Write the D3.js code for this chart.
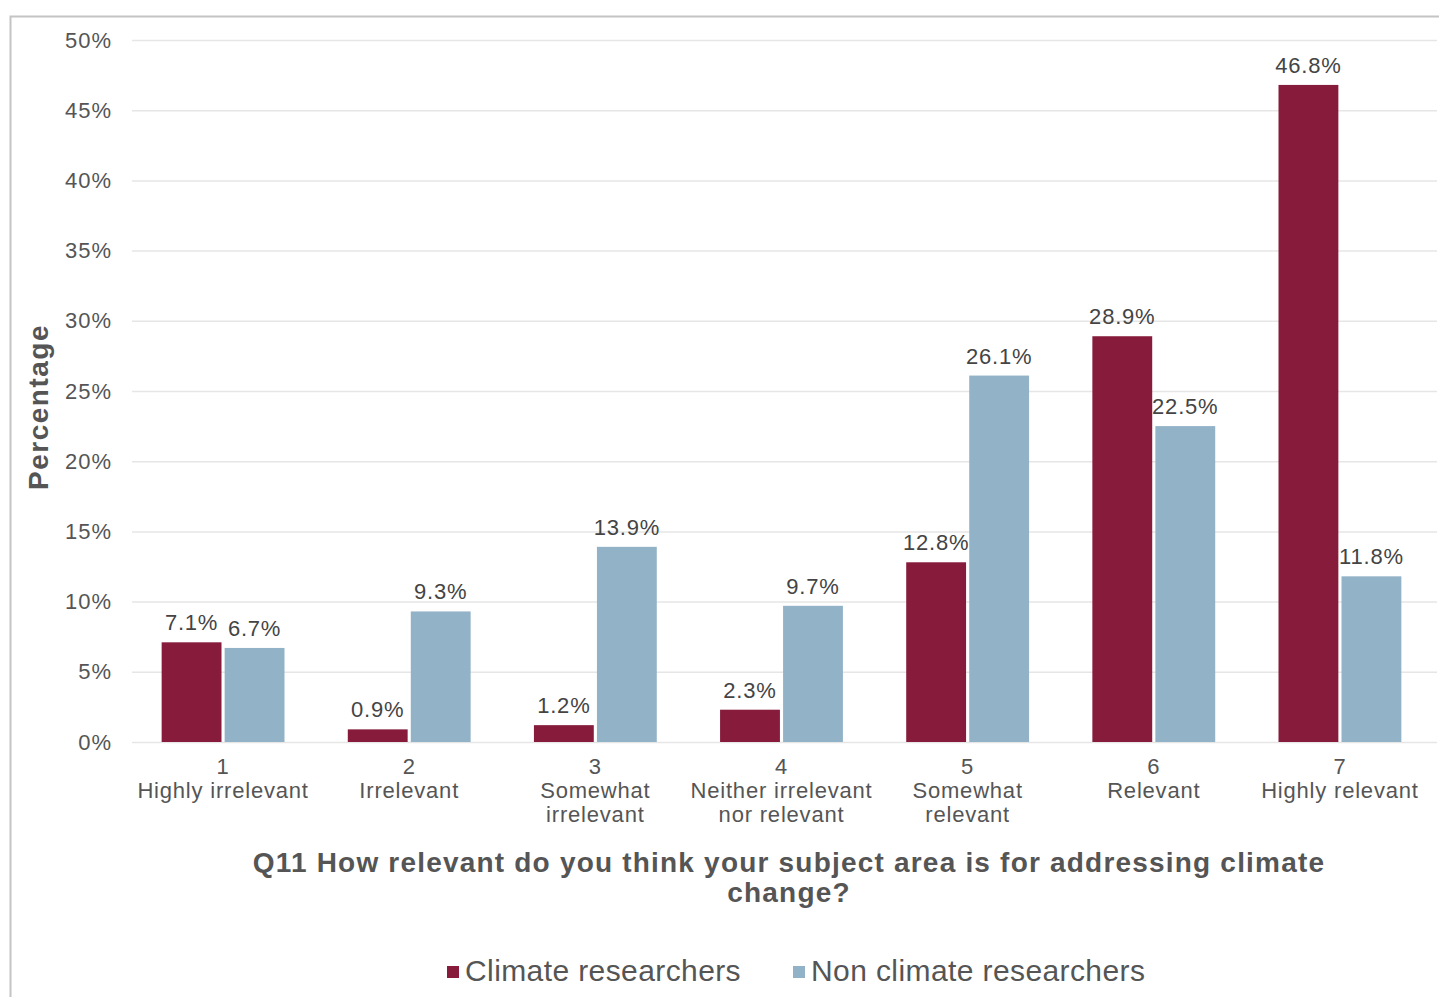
<!DOCTYPE html>
<html>
<head>
<meta charset="utf-8">
<script src="https://cdn.jsdelivr.net/npm/d3@7"></script>
<style>
  html, body { margin: 0; padding: 0; background: #fff; }
  svg { display: block; font-family: "Liberation Sans", Arial, Helvetica, sans-serif; }
</style>
</head>
<body>
<svg id="chart" width="1439" height="997"></svg>
<script>
// Survey responses, Q11 (scale 1–7)
const categoryNumbers = ["1", "2", "3", "4", "5", "6", "7"];
const categoryNames = [
  ["Highly irrelevant"],
  ["Irrelevant"],
  ["Somewhat", "irrelevant"],
  ["Neither irrelevant", "nor relevant"],
  ["Somewhat", "relevant"],
  ["Relevant"],
  ["Highly relevant"]
];
const seriesNames = ["Climate researchers", "Non climate researchers"];
const climateValues = [7.1, 0.9, 1.2, 2.3, 12.8, 28.9, 46.8];
const nonClimateValues = [6.7, 9.3, 13.9, 9.7, 26.1, 22.5, 11.8];
const yTicks = [0, 5, 10, 15, 20, 25, 30, 35, 40, 45, 50];
const seriesColors = ["#861b3b", "#92b3c7"];

const svg = d3.select("#chart");

// outer frame (top and left edges visible)
svg.append("path")
  .attr("d", "M10.5,997 V16.5 H1439")
  .attr("fill", "none")
  .attr("stroke", "#c4c4c4")
  .attr("stroke-width", 2);

const x0 = d3.scaleBand()
  .domain(categoryNumbers)
  .range([130, 1433])
  .paddingInner(0.34)
  .paddingOuter(0.17);

const x1 = d3.scaleBand()
  .domain(seriesNames)
  .range([0, x0.bandwidth()])
  .paddingInner(0.05);

const y = d3.scaleLinear().domain([0, 50]).range([742, 40]);

// gridlines
svg.append("g")
  .selectAll("line")
  .data(yTicks)
  .join("line")
  .attr("x1", 132)
  .attr("x2", 1437)
  .attr("y1", d => y(d) + 0.5)
  .attr("y2", d => y(d) + 0.5)
  .attr("stroke", "#e6e6e6")
  .attr("stroke-width", 1.5);

// y tick labels
const yAxis = d3.axisLeft(y)
  .tickValues(yTicks)
  .tickFormat(d => d + "%")
  .tickSize(0)
  .tickPadding(0);
const yg = svg.append("g").attr("transform", "translate(112,0)").call(yAxis);
yg.select(".domain").remove();
yg.selectAll("text")
  .attr("font-size", 22)
  .attr("letter-spacing", 1)
  .attr("fill", "#555")
  .attr("font-family", "inherit");

// y axis title
svg.append("text")
  .attr("transform", "translate(48,407) rotate(-90)")
  .attr("text-anchor", "middle")
  .attr("font-size", 28)
  .attr("letter-spacing", 1.5)
  .attr("font-weight", "bold")
  .attr("fill", "#555")
  .text("Percentage");

// bars
const rows = categoryNumbers.map((c, i) => ({
  cat: c,
  values: [
    { series: seriesNames[0], value: climateValues[i], color: seriesColors[0] },
    { series: seriesNames[1], value: nonClimateValues[i], color: seriesColors[1] }
  ]
}));

const groups = svg.append("g")
  .selectAll("g")
  .data(rows)
  .join("g")
  .attr("transform", d => `translate(${x0(d.cat)},0)`);

groups.selectAll("rect")
  .data(d => d.values)
  .join("rect")
  .attr("x", d => x1(d.series))
  .attr("width", x1.bandwidth())
  .attr("y", d => y(d.value))
  .attr("height", d => y(0) - y(d.value))
  .attr("fill", d => d.color);

groups.selectAll("text.val")
  .data(d => d.values)
  .join("text")
  .attr("class", "val")
  .attr("x", d => x1(d.series) + x1.bandwidth() / 2)
  .attr("y", d => y(d.value) - 12)
  .attr("text-anchor", "middle")
  .attr("font-size", 22)
  .attr("letter-spacing", 0.8)
  .attr("fill", "#444")
  .text(d => d.value.toFixed(1) + "%");

// category labels
const catG = svg.append("g")
  .selectAll("text")
  .data(categoryNumbers)
  .join("text")
  .attr("text-anchor", "middle")
  .attr("font-size", 22)
  .attr("letter-spacing", 0.8)
  .attr("fill", "#555");

catG.each(function (d, i) {
  const t = d3.select(this);
  const cx = x0(d) + x0.bandwidth() / 2;
  [d].concat(categoryNames[i]).forEach((line, k) => {
    t.append("tspan").attr("x", cx).attr("y", 774 + k * 24).text(line);
  });
});

// x axis title
svg.append("text")
  .attr("text-anchor", "middle")
  .attr("font-size", 28)
  .attr("letter-spacing", 1.2)
  .attr("font-weight", "bold")
  .attr("fill", "#555")
  .selectAll("tspan")
  .data(["Q11 How relevant do you think your subject area is for addressing climate", "change?"])
  .join("tspan")
  .attr("x", 789)
  .attr("y", (d, i) => 872 + i * 30)
  .text(d => d);

// legend
const legendItems = [
  { name: seriesNames[0], color: seriesColors[0], x: 447 },
  { name: seriesNames[1], color: seriesColors[1], x: 793 }
];
const lg = svg.append("g")
  .selectAll("g")
  .data(legendItems)
  .join("g")
  .attr("transform", d => `translate(${d.x},0)`);
lg.append("rect")
  .attr("x", 0).attr("y", 966)
  .attr("width", 12).attr("height", 12)
  .attr("fill", d => d.color);
lg.append("text")
  .attr("x", 18).attr("y", 981)
  .attr("font-size", 30)
  .attr("letter-spacing", 0.4)
  .attr("fill", "#555")
  .text(d => d.name);
</script>
</body>
</html>
